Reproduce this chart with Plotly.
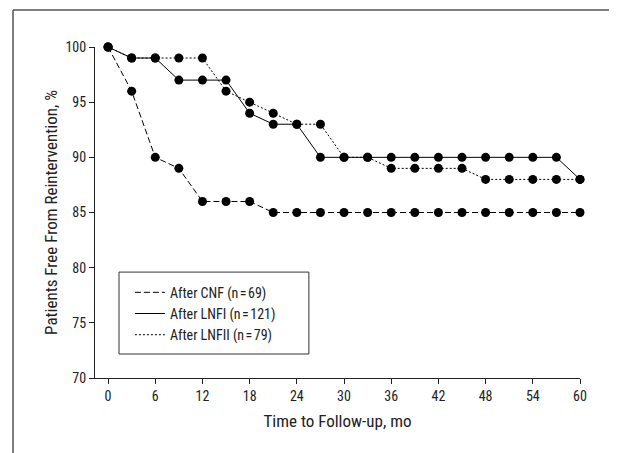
import plotly.graph_objects as go

months = [0, 3, 6, 9, 12, 15, 18, 21, 24, 27, 30, 33, 36, 39, 42, 45, 48, 51, 54, 57, 60]
cnf = [100, 96, 90, 89, 86, 86, 86, 85, 85, 85, 85, 85, 85, 85, 85, 85, 85, 85, 85, 85, 85]
lnf1 = [100, 99, 99, 97, 97, 97, 94, 93, 93, 90, 90, 90, 90, 90, 90, 90, 90, 90, 90, 90, 88]
lnf2 = [100, 99, 99, 99, 99, 96, 95, 94, 93, 93, 90, 90, 89, 89, 89, 89, 88, 88, 88, 88, 88]

names = ["After CNF (n\u200a=\u200a69)", "After LNFI (n\u200a=\u200a121)", "After LNFII (n\u200a=\u200a79)"]
series = [cnf, lnf1, lnf2]
dashes = ["6px,3px", "solid", "2px,2px"]

FONT = "Liberation Sans Narrow, Arial Narrow, Roboto Condensed, Liberation Sans, sans-serif"

fig = go.Figure()
for name, ys, dash in zip(names, series, dashes):
    fig.add_trace(go.Scatter(
        x=months, y=ys, mode="lines+markers", showlegend=False,
        line=dict(color="black", width=1, dash=dash),
        marker=dict(color="black", size=9), cliponaxis=False,
    ))
for name, dash in zip(names, dashes):
    fig.add_trace(go.Scatter(
        x=[None], y=[None], mode="lines", name=name,
        line=dict(color="black", width=1, dash=dash),
    ))

fig.update_layout(
    width=609, height=445,
    margin=dict(l=87, r=37, t=39, b=75),
    paper_bgcolor="white", plot_bgcolor="white",
    font=dict(family=FONT, size=14, color="#222"),
    xaxis=dict(
        range=[-1.66, 60], tickvals=list(range(0, 61, 6)),
        showline=True, linecolor="#222", linewidth=1,
        ticks="outside", ticklen=5, tickcolor="#222",
        showgrid=False, zeroline=False,
        title=dict(text="Time to Follow-up, mo", standoff=12),
    ),
    yaxis=dict(
        range=[70, 100], tickvals=list(range(70, 101, 5)),
        showline=True, linecolor="#222", linewidth=1,
        ticks="outside", ticklen=5, tickcolor="#222",
        showgrid=False, zeroline=False,
        title=dict(text="Patients Free From Reintervention, %", standoff=3),
    ),
    legend=dict(
        x=0.072, y=0.306, xanchor="left", yanchor="top",
        borderwidth=0, bgcolor="rgba(0,0,0,0)",
        font=dict(family=FONT, size=14, color="#222"),
        tracegroupgap=0, itemwidth=30,
    ),
    shapes=[
        dict(type="rect", xref="paper", yref="paper", x0=0.0495, x1=0.441, y0=0.0725, y1=0.320,
             line=dict(color="#333", width=1), fillcolor="rgba(0,0,0,0)"),
        dict(type="line", xref="paper", yref="paper", x0=-0.169, x1=1.2, y0=1.1118, y1=1.1118,
             line=dict(color="#555", width=1.5)),
        dict(type="line", xref="paper", yref="paper", x0=-0.169, x1=-0.169, y0=1.1118, y1=-0.3,
             line=dict(color="#555", width=1.5)),
    ],
)

fig.write_html("out.html")
